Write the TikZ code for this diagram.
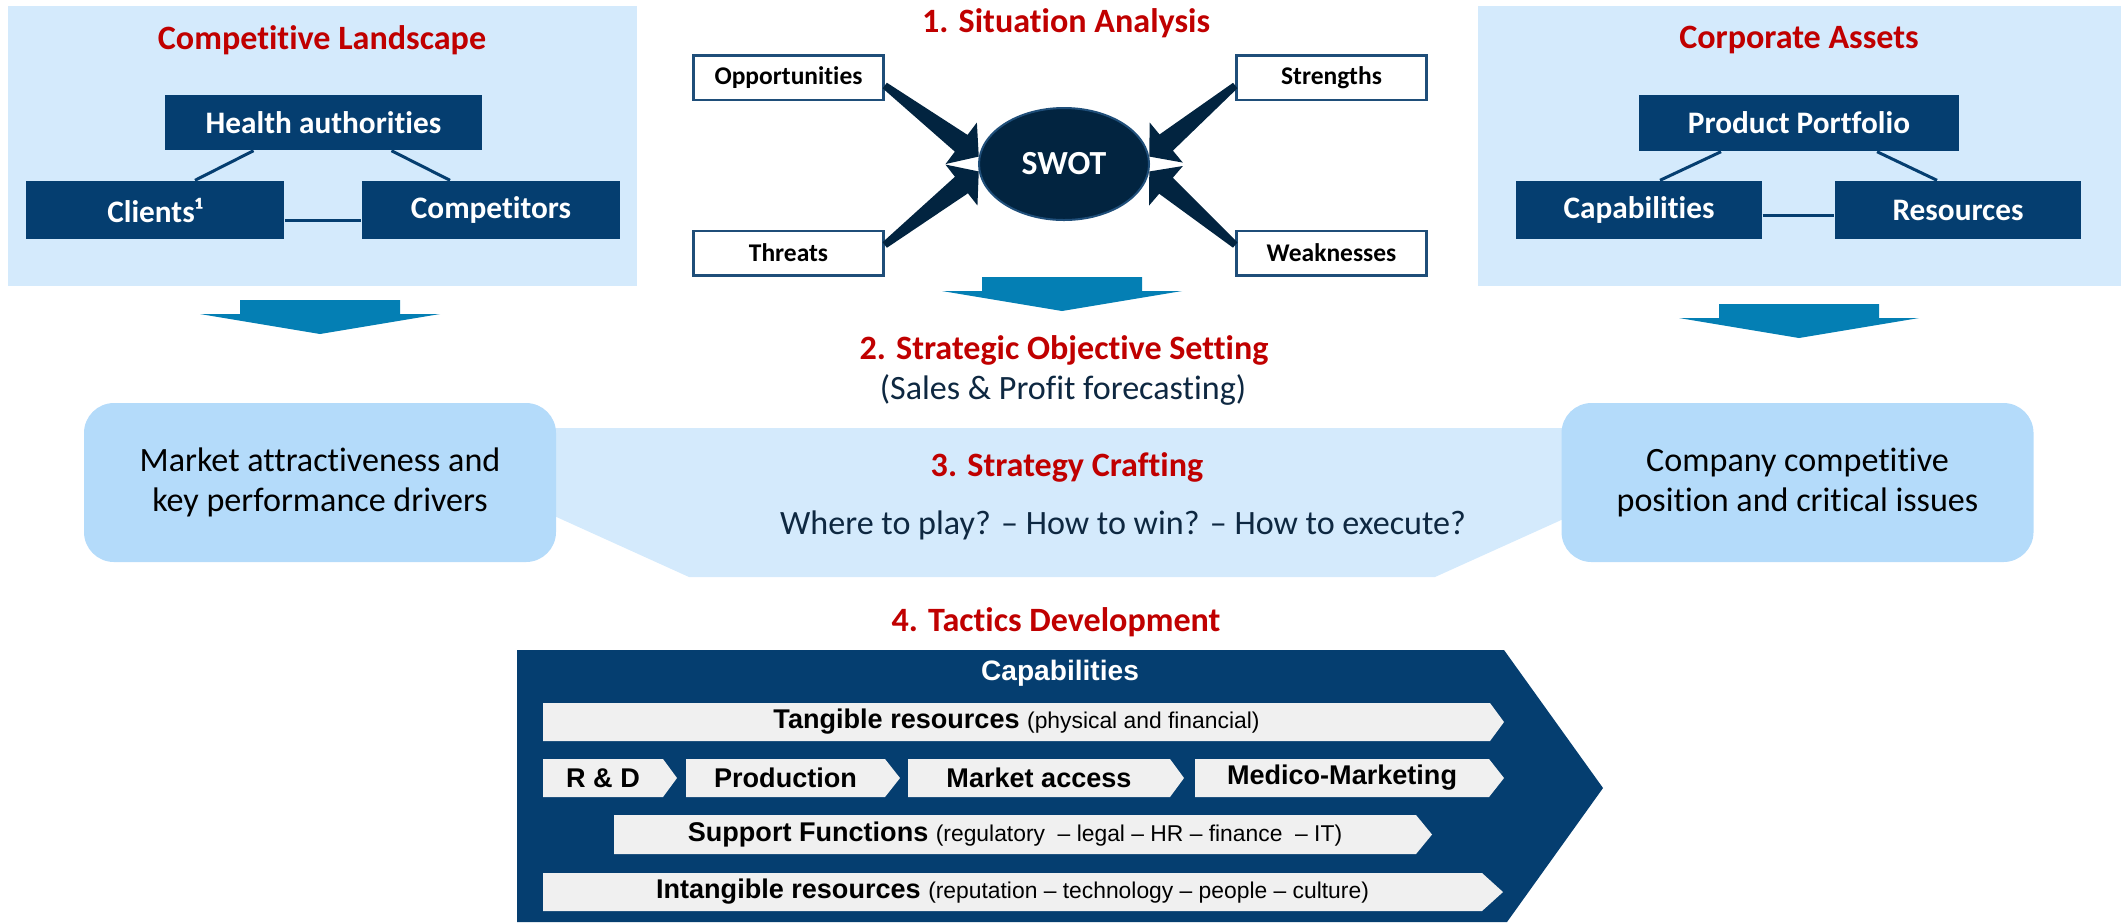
\documentclass[tikz,border=0pt]{standalone}
\usepackage{fontspec}
\setmainfont{Carlito}[Ligatures=NoCommon]
\newfontfamily\arialf{Liberation Sans}[Ligatures=NoCommon]
\usetikzlibrary{calc,shapes.geometric}
\definecolor{panelbg}{RGB}{212,234,252}
\definecolor{roundbg}{RGB}{180,219,250}
\definecolor{navybox}{RGB}{5,62,112}
\definecolor{swotnavy}{RGB}{2,36,64}
\definecolor{swotedge}{RGB}{31,78,121}
\definecolor{arrowblue}{RGB}{4,127,180}
\definecolor{titlered}{RGB}{192,0,0}
\definecolor{textnavy}{RGB}{14,40,65}
\definecolor{bargray}{RGB}{240,240,240}
\tikzset{
  titletext/.style={font=\fontsize{9.7}{11.6}\selectfont\bfseries, text=titlered, inner sep=0pt},
  panelbox/.style={fill=navybox, text=white, inner sep=0pt, font=\fontsize{8.9}{10.7}\selectfont\bfseries},
  link/.style={draw=navybox, line width=0.3mm},
  swotbox/.style={draw=swotedge, fill=white, line width=0.25mm, inner sep=0pt, minimum width=19mm, minimum height=4.45mm, font=\fontsize{7.25}{8.7}\selectfont\bfseries},
  roundbox/.style={fill=roundbg, rounded corners=3mm, inner sep=0pt, align=center, minimum width=47.2mm, minimum height=15.9mm, font=\fontsize{9.7}{11.3}\selectfont},
  bodytext/.style={text=textnavy, inner sep=0pt, font=\fontsize{9.7}{11.6}\selectfont},
  bartext/.style={inner sep=0pt, font=\arialf\fontsize{7.7}{9}\selectfont\bfseries},
}
\newcommand\dnarrow[2]{%
  \fill[arrowblue] ({#1-80},{#2}) -- ({#1+80},{#2}) -- ({#1+80},{#2+14}) -- ({#1+120},{#2+14}) -- ({#1},{#2+34}) -- ({#1-120},{#2+14}) -- ({#1-80},{#2+14}) -- cycle;}
\newcommand\swotarrow[2]{%
  \coordinate (hb) at ($(#2)!2.2mm!(#1)$);
  \fill[swotnavy] ($(#1)!0.35mm!90:(#2)$) -- ($(hb)!1.05mm!90:(#2)$) -- ($(hb)!2.6mm!90:(#2)$) -- (#2)
     -- ($(hb)!2.6mm!-90:(#2)$) -- ($(hb)!1.05mm!-90:(#2)$) -- ($(#1)!0.35mm!-90:(#2)$) -- cycle;}
\newcommand\cbar[7]{%
  \fill[bargray] ({#2},{#5}) -- ({#3},{#5}) -- ({#4},{(#5+#6)/2}) -- ({#3},{#6}) -- ({#2},{#6}) -- cycle;
  \node[bartext] (#1) at ({(#2+#3)/2},{(#5+#6)/2}) {#7};}
\newcommand\paren[1]{{\fontsize{6.5}{8}\selectfont\mdseries #1}}
\begin{document}
\begin{tikzpicture}[x=0.1mm,y=-0.1mm]
\useasboundingbox (0,0) rectangle (2121,922);
% ---------- left panel
\fill[panelbg] (8,6) rectangle (637,286);
\node[titletext] (cltitle) at (322,40) {Competitive Landscape};
\node[panelbox, minimum width=31.7mm, minimum height=5.5mm] (health) at (323.5,122.5) {Health authorities};
\node[panelbox, minimum width=25.8mm, minimum height=5.8mm] (clients) at (155,210) {Clients¹};
\node[panelbox, minimum width=25.8mm, minimum height=5.8mm] (competitors) at (491,210) {Competitors};
\draw[link] ($(health.south)+(-70,0)$) -- ($(clients.north)+(40,0)$);
\draw[link] ($(health.south)+(68,0)$) -- ($(competitors.north)+(-41,0)$);
\draw[link] ($(clients.east)+(0,10)$) -- ($(competitors.west)+(0,10)$);
\dnarrow{320}{300}
% ---------- right panel
\fill[panelbg] (1478,6) rectangle (2121,286);
\node[titletext] (catitle) at (1799,40) {Corporate Assets};
\node[panelbox, minimum width=32mm, minimum height=5.6mm] (pp) at (1799,123) {Product Portfolio};
\node[panelbox, minimum width=24.6mm, minimum height=5.8mm] (capab) at (1639,210) {Capabilities};
\node[panelbox, minimum width=24.6mm, minimum height=5.8mm] (res) at (1958,210) {Resources};
\draw[link] ($(pp.south)+(-78,0)$) -- ($(capab.north)+(21,0)$);
\draw[link] ($(pp.south)+(78,0)$) -- ($(res.north)+(-21,0)$);
\draw[link] ($(capab.east)+(0,5)$) -- ($(res.west)+(0,5)$);
\dnarrow{1799}{304}
% ---------- SWOT
\node[titletext] (sa) at (1066,23) {1. Situation Analysis};
\node[swotbox] (opp) at (788.5,77.5) {Opportunities};
\node[swotbox] (str) at (1331.5,77.5) {Strengths};
\node[swotbox] (thr) at (788.5,253) {Threats};
\node[swotbox] (weak) at (1331.5,253) {Weaknesses};
\node[ellipse, fill=swotnavy, draw=swotedge, line width=0.2mm, minimum width=17mm, minimum height=11.2mm, inner sep=0pt, text=white, font=\fontsize{9.6}{11.5}\selectfont\bfseries] (swot) at (1064,164) {SWOT};
\coordinate (opptail) at ($(opp.east)+(0,8)$);
\coordinate (strtail) at ($(str.west)+(0,8)$);
\coordinate (thrtail) at ($(thr.east)+(0,-8)$);
\coordinate (weaktail) at ($(weak.west)+(0,-8)$);
\swotarrow{opptail}{swot.175}
\swotarrow{strtail}{swot.5}
\swotarrow{thrtail}{swot.185}
\swotarrow{weaktail}{swot.355}
\dnarrow{1062}{277}
% ---------- objective setting
\node[titletext] (sos) at (1064,350) {2. Strategic Objective Setting};
\node[bodytext] (sales) at (1063,390) {(Sales \& Profit forecasting)};
% ---------- strategy crafting band
\fill[panelbg] (530,428) -- (1590,428) -- (1590,507) -- (1435,577) -- (689,577) -- (530,505) -- cycle;
\node[roundbox] (mkt) at (320,482.5) {Market attractiveness and\\key performance drivers};
\node[roundbox] (comp) at (1797.5,482.5) {Company competitive\\position and critical issues};
\node[titletext] (sc) at (1067,467) {3. Strategy Crafting};
\node[bodytext] (where) at (1123,525) {Where to play? – How to win? – How to execute?};
% ---------- tactics
\node[titletext] (td) at (1056,622) {4. Tactics Development};
\fill[navybox] (517,650) -- (1504,650) -- (1603,788) -- (1507,922) -- (517,922) -- cycle;
\node[inner sep=0pt, text=white, font=\arialf\fontsize{8}{9.6}\selectfont\bfseries] (capt) at (1060,673) {Capabilities};
\cbar{tang}{543}{1490}{1504}{703}{741}{Tangible resources \paren{(physical and financial)}}
\cbar{rd}{543}{663}{677}{759}{797}{R \& D}
\cbar{prod}{686}{885}{900}{759}{797}{Production}
\cbar{macc}{908}{1170}{1184}{759}{797}{Market access}
\cbar{medm}{1195}{1489}{1504}{759}{797}{Medico-Marketing}
\cbar{supp}{614}{1416}{1432}{815}{854}{Support Functions \paren{(regulatory\ \ – legal – HR – finance\ \ – IT)}}
\cbar{intang}{543}{1482}{1503}{873}{911}{Intangible resources \paren{(reputation – technology – people – culture)}}
\end{tikzpicture}
\end{document}
